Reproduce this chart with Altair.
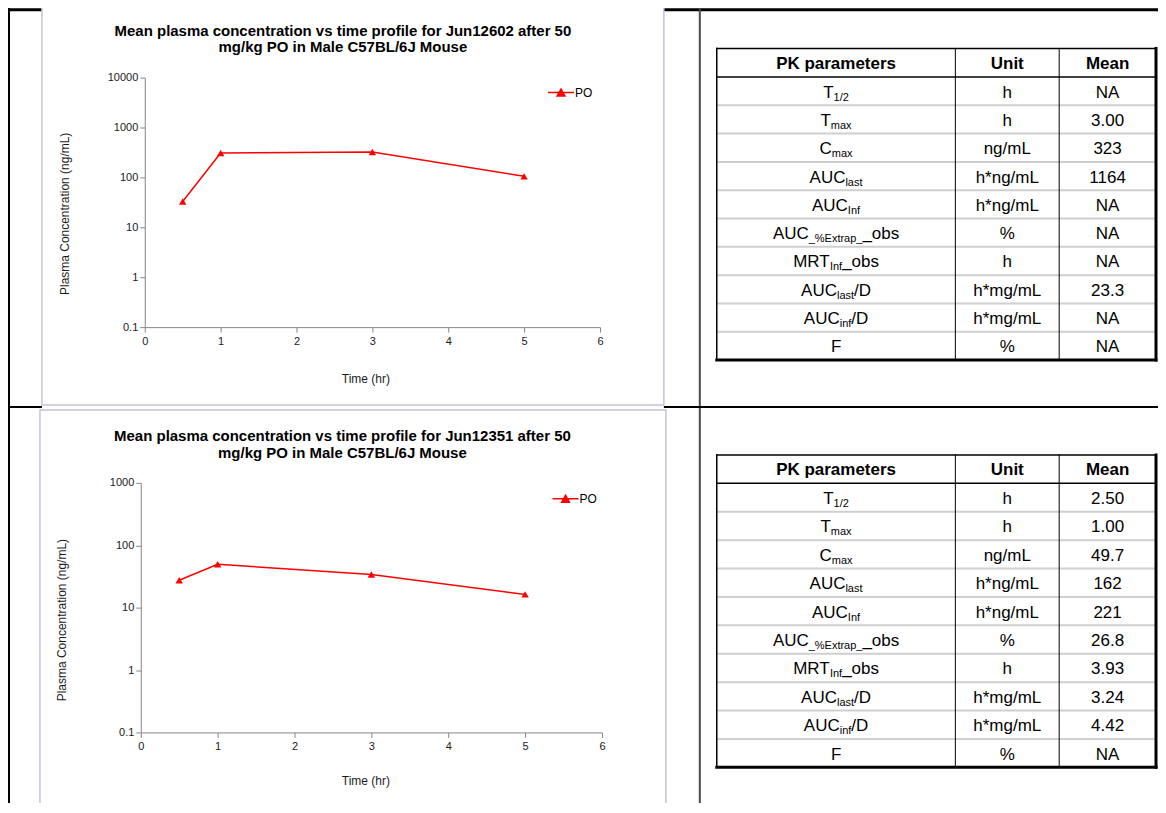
import altair as alt
import pandas as pd

# ------------------------------------------------------------------ data
times = [0.5, 1, 3, 5]
conc_jun12602 = [33, 308, 323, 105]
conc_jun12351 = [27.5, 49.7, 34, 16.3]
series_name = "PO"

titles_jun12602 = ["Mean plasma concentration vs time profile for Jun12602 after 50",
                   "mg/kg PO in Male C57BL/6J Mouse"]
titles_jun12351 = ["Mean plasma concentration vs time profile for Jun12351 after 50",
                   "mg/kg PO in Male C57BL/6J Mouse"]
x_title = "Time (hr)"
y_title = "Plasma Concentration (ng/mL)"
x_tick_values = [0, 1, 2, 3, 4, 5, 6]
y_ticks_jun12602 = [0.1, 1, 10, 100, 1000, 10000]
y_ticks_jun12351 = [0.1, 1, 10, 100, 1000]

table_header = ["PK parameters", "Unit", "Mean"]
# (text, is_subscript)
param_segments = [
    [("T", 0), ("1/2", 1)],
    [("T", 0), ("max", 1)],
    [("C", 0), ("max", 1)],
    [("AUC", 0), ("last", 1)],
    [("AUC", 0), ("Inf", 1)],
    [("AUC", 0), ("_%Extrap_", 1), ("_obs", 0)],
    [("MRT", 0), ("Inf", 1), ("_obs", 0)],
    [("AUC", 0), ("last", 1), ("/D", 0)],
    [("AUC", 0), ("inf", 1), ("/D", 0)],
    [("F", 0)],
]
param_units = ["h", "h", "ng/mL", "h*ng/mL", "h*ng/mL", "%", "h", "h*mg/mL", "h*mg/mL", "%"]
mean_jun12602 = ["NA", "3.00", "323", "1164", "NA", "NA", "NA", "23.3", "NA", "NA"]
mean_jun12351 = ["2.50", "1.00", "49.7", "162", "221", "26.8", "3.93", "3.24", "4.42", "NA"]

# ------------------------------------------------------------------ layout
W, H = 1152, 795
RED = "#ff0000"
FONT = "Liberation Sans"
MAIN_FS, SUB_FS = 17, 11

# Arial / Liberation Sans advance widths (1/1000 em)
AW = {' ': 278, '%': 889, '*': 389, '.': 278, '/': 278, '_': 556, 'A': 667, 'C': 722,
      'D': 722, 'E': 667, 'F': 611, 'I': 278, 'L': 556, 'M': 833, 'N': 722, 'R': 722,
      'T': 611, 'U': 722, 'a': 556, 'b': 556, 'f': 278, 'g': 556, 'h': 556, 'i': 222,
      'l': 222, 'm': 833, 'n': 556, 'o': 556, 'p': 556, 'r': 333, 's': 500, 't': 278,
      'x': 500}


def text_width(s, size):
    return sum(AW.get(ch, 556) for ch in s) * size / 1000.0


CHART_CFG = [
    dict(conc=conc_jun12602, yticks=y_ticks_jun12602, titles=titles_jun12602,
         xr=[137, 593], yr=[319, 69], axis_y=319, axis_x=137,
         title_xy=(335.5, 22), title_dy=16, xtitle=(358, 370), ytitle=(57, 205),
         legend=(540, 70), frame=(34, -5, 657, 397)),
    dict(conc=conc_jun12351, yticks=y_ticks_jun12351, titles=titles_jun12351,
         xr=[133, 595], yr=[725, 475], axis_y=725, axis_x=133,
         title_xy=(335, 428), title_dy=17, xtitle=(358, 773), ytitle=(54, 612),
         legend=(544.5, 477), frame=(32, 402, 659, 805)),
]

TABLE_COLS = [710, 949, 1053, 1150]
TABLE_CFG = [
    dict(means=mean_jun12602, top=40, bottom=352),
    dict(means=mean_jun12351, top=447, bottom=760),
]

SYM = "M-1,0L1,0M-0.3,0.27L0,-0.27L0.3,0.27Z"


def px(field):
    return alt.X(field, scale=None, axis=None)


def py(field):
    return alt.Y(field, scale=None, axis=None)


def rule_layer(rows):
    df = pd.DataFrame(rows)
    return alt.Chart(df).mark_rule(strokeCap="square").encode(
        x=px("x:Q"), x2="x2:Q", y=py("y:Q"), y2="y2:Q",
        color=alt.Color("c:N", scale=None, legend=None),
        strokeWidth=alt.StrokeWidth("w:Q", scale=None, legend=None),
    )


# ---- outer grid lines of the document table
outer_rules = [
    dict(x=1, x2=1, y=0, y2=H, c="#000000", w=2),
    dict(x=0, x2=W, y=1, y2=1, c="#000000", w=3),
    dict(x=693, x2=693, y=0, y2=H, c="#4a4a4a", w=2),
    dict(x=0, x2=33, y=399, y2=399, c="#000000", w=2),
    dict(x=658, x2=W, y=399, y2=399, c="#000000", w=2),
]
layers = [rule_layer(outer_rules)]

# ---- chart image frames
frames = pd.DataFrame([dict(x=c["frame"][0], y=c["frame"][1], x2=c["frame"][2], y2=c["frame"][3])
                       for c in CHART_CFG])
layers.append(alt.Chart(frames).mark_rect(fill="white", stroke="#c4c4d4", strokeWidth=1.5).encode(
    x=px("x:Q"), x2="x2:Q", y=py("y:Q"), y2="y2:Q"))

# ---- chart titles
title_rows = []
for c in CHART_CFG:
    for i, t in enumerate(c["titles"]):
        title_rows.append(dict(t=t, x=c["title_xy"][0], y=c["title_xy"][1] + i * c["title_dy"]))
layers.append(alt.Chart(pd.DataFrame(title_rows)).mark_text(
    font=FONT, fontSize=15, fontWeight="bold", align="center", baseline="middle", color="#000000"
).encode(x=px("x:Q"), y=py("y:Q"), text="t:N"))

# ---- concentration-time charts
for c in CHART_CFG:
    df = pd.DataFrame({"time": times, "conc": c["conc"], "series": [series_name] * len(times)})
    ch = alt.Chart(df).mark_line(
        strokeWidth=1.5,
        point=alt.OverlayMarkDef(shape="triangle-up", filled=True, size=55),
    ).encode(
        x=alt.X("time:Q",
                scale=alt.Scale(domain=[0, 6], range=c["xr"], nice=False, zero=False),
                axis=alt.Axis(orient="bottom", offset=c["axis_y"] - H, values=x_tick_values,
                              title=x_title, titleX=c["xtitle"][0], titleY=c["xtitle"][1] - c["axis_y"],
                              titleBaseline="middle", titleAlign="center", labelPadding=3,
                              labelFlush=False, labelOverlap=False, zindex=1, grid=False)),
        y=alt.Y("conc:Q",
                scale=alt.Scale(type="log", domain=[c["yticks"][0], c["yticks"][-1]], range=c["yr"], nice=False),
                axis=alt.Axis(orient="left", offset=-c["axis_x"], values=c["yticks"], format="~g",
                              title=y_title, titleX=c["ytitle"][0] - c["axis_x"], titleY=c["ytitle"][1],
                              titleAngle=270, titleBaseline="middle", titleAlign="center",
                              labelPadding=2, labelFlush=False, labelOverlap=False, zindex=1, grid=False)),
        color=alt.Color("series:N", scale=alt.Scale(domain=[series_name], range=[RED]),
                        legend=alt.Legend(title=None, orient="none", legendX=c["legend"][0],
                                          legendY=c["legend"][1], symbolType=SYM, symbolSize=676,
                                          symbolStrokeWidth=1.5, symbolFillColor=RED,
                                          labelFontSize=12, labelOffset=0, padding=0,
                                          labelColor="#000000", labelFont=FONT)),
    )
    layers.append(ch)

# ---- PK parameter tables
for tc in TABLE_CFG:
    left, c1, c2, right = TABLE_COLS
    top, bottom = tc["top"], tc["bottom"]
    rh = (bottom - top) / 11.0
    centers = [(left + c1) / 2.0, (c1 + c2) / 2.0, (c2 + right) / 2.0]

    rules = []
    for r in range(2, 11):
        y = top + r * rh
        rules.append(dict(x=left, x2=right, y=y, y2=y, c="#cfcfcf", w=2))
    for xc in (c1, c2):
        rules.append(dict(x=xc, x2=xc, y=top, y2=bottom, c="#000000", w=1))
    rules.append(dict(x=left, x2=right, y=top + rh, y2=top + rh, c="#000000", w=1.5))
    rules.append(dict(x=left, x2=right, y=top, y2=top, c="#000000", w=1.5))
    rules.append(dict(x=left, x2=left, y=top, y2=bottom, c="#000000", w=1.5))
    rules.append(dict(x=right, x2=right, y=top, y2=bottom, c="#000000", w=3))
    rules.append(dict(x=left, x2=right, y=bottom, y2=bottom, c="#000000", w=3))
    layers.append(rule_layer(rules))

    head = pd.DataFrame([dict(t=t, x=centers[i], y=top + rh / 2 + 6) for i, t in enumerate(table_header)])
    layers.append(alt.Chart(head).mark_text(
        font=FONT, fontSize=MAIN_FS, fontWeight="bold", align="center", baseline="alphabetic", color="#000000"
    ).encode(x=px("x:Q"), y=py("y:Q"), text="t:N"))

    body = []
    for i in range(10):
        yc = top + (i + 1.5) * rh
        body.append(dict(t=param_units[i], x=centers[1], y=yc + 6.5))
        body.append(dict(t=tc["means"][i], x=centers[2], y=yc + 6.5))
    layers.append(alt.Chart(pd.DataFrame(body)).mark_text(
        font=FONT, fontSize=MAIN_FS, align="center", baseline="alphabetic", color="#000000"
    ).encode(x=px("x:Q"), y=py("y:Q"), text="t:N"))

    mains, subs = [], []
    for i, segs in enumerate(param_segments):
        yc = top + (i + 1.5) * rh
        total = sum(text_width(s, SUB_FS if sub else MAIN_FS) for s, sub in segs)
        xcur = centers[0] - total / 2.0
        for s, sub in segs:
            if sub:
                subs.append(dict(t=s, x=xcur, y=yc + 9.5))
                xcur += text_width(s, SUB_FS)
            else:
                mains.append(dict(t=s, x=xcur, y=yc + 6.5))
                xcur += text_width(s, MAIN_FS)
    layers.append(alt.Chart(pd.DataFrame(mains)).mark_text(
        font=FONT, fontSize=MAIN_FS, align="left", baseline="alphabetic", color="#000000"
    ).encode(x=px("x:Q"), y=py("y:Q"), text="t:N"))
    layers.append(alt.Chart(pd.DataFrame(subs)).mark_text(
        font=FONT, fontSize=SUB_FS, align="left", baseline="alphabetic", color="#000000"
    ).encode(x=px("x:Q"), y=py("y:Q"), text="t:N"))

chart = alt.layer(*layers).resolve_scale(
    x="independent", y="independent", color="independent"
).resolve_axis(
    x="independent", y="independent"
).resolve_legend(
    color="independent"
).properties(
    width=W, height=H, autosize=alt.AutoSizeParams(type="none"), padding=0
).configure(
    font=FONT
).configure_view(
    stroke=None
).configure_axis(
    domainColor="#868686", tickColor="#868686", tickSize=5, domainWidth=1, tickWidth=1,
    labelFont=FONT, labelFontSize=11, labelColor="#1a1a1a",
    titleFont=FONT, titleFontSize=12, titleFontWeight="normal", titleColor="#1a1a1a",
)

chart.save("out.html", embed_options={"renderer": "svg", "actions": False})
